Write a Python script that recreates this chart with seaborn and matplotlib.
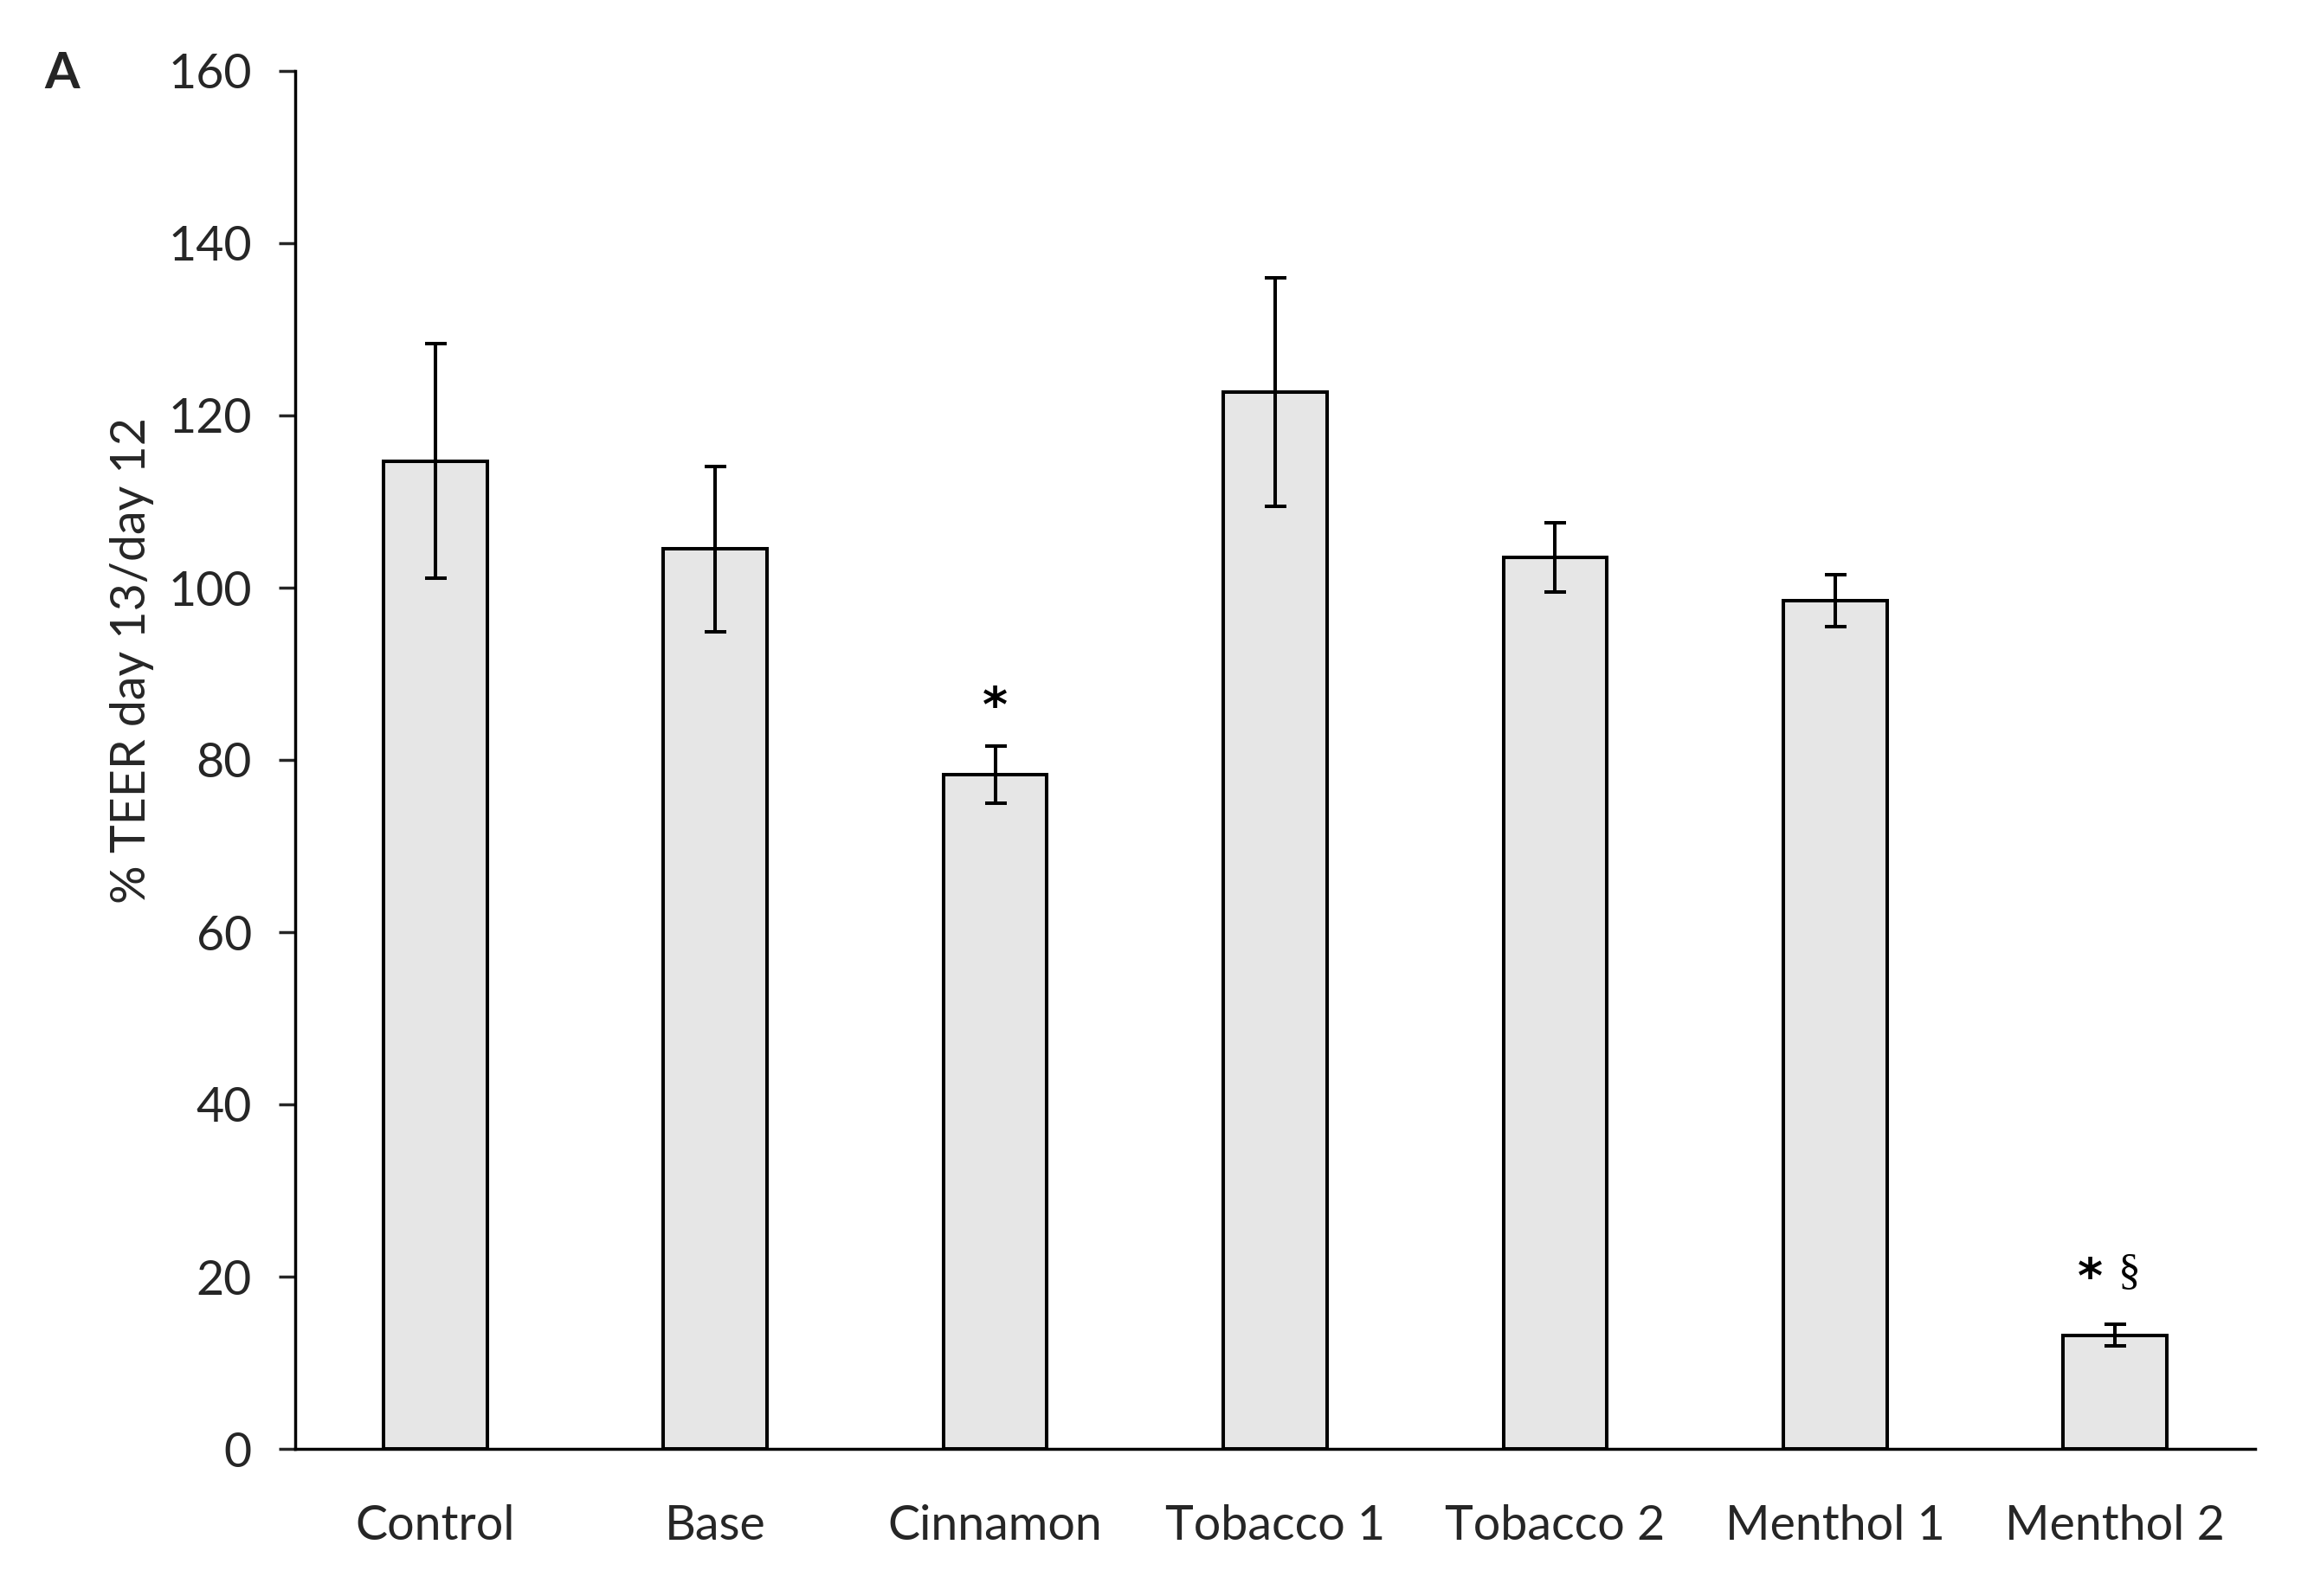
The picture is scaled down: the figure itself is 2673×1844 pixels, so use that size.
import matplotlib
matplotlib.use("Agg")
import matplotlib.pyplot as plt
import seaborn as sns
import pandas as pd
import numpy as np

categories = ["Control", "Base", "Cinnamon", "Tobacco 1", "Tobacco 2", "Menthol 1", "Menthol 2"]
values = [114.7, 104.5, 78.3, 122.7, 103.5, 98.5, 13.2]
errors = [13.6, 9.6, 3.3, 13.3, 4.0, 3.0, 1.25]
# significance marks: (category index, offset, text, y value)
star_marks = [(2, 0.0, "*", 86.0), (6, -0.09, "*", 19.7)]
sect_marks = [(6, 0.05, "\u00a7", 20.4)]
yticks = [0, 20, 40, 60, 80, 100, 120, 140, 160]

sns.set_style("white")
plt.rcParams['font.family'] = ['Lato', 'DejaVu Sans']

df = pd.DataFrame({"cat": categories, "val": values})

fig = plt.figure(figsize=(26.73, 18.44), dpi=100)
ax = fig.add_axes([341/2673, 1 - 1674/1844, (2605-341)/2673, (1674-82)/1844])

sns.barplot(data=df, x="cat", y="val", order=categories, color="#e6e6e6",
            edgecolor="black", linewidth=2.9, width=0.37, saturation=1, ax=ax, zorder=2)
xs = np.arange(len(categories))
ax.errorbar(xs, values, yerr=errors, fmt="none", ecolor="black", elinewidth=2.9,
            capsize=9, capthick=2.9, zorder=3)

for i, off, t, y in star_marks:
    ax.text(xs[i] + off, y, t, ha="center", va="center", fontsize=40,
            fontweight="bold", family=["DejaVu Sans"], color="black")
for i, off, t, y in sect_marks:
    ax.text(xs[i] + off, y, t, ha="center", va="center", fontsize=37,
            family=["Liberation Serif"], color="black")

ax.set_ylim(0, 160)
ax.set_xlim(-0.5, len(categories) - 0.5)
ax.set_yticks(yticks)
ax.set_yticklabels([str(v) for v in yticks], fontsize=40)
ax.tick_params(axis="y", direction="out", length=14, width=2.5, pad=22, left=True)
ax.tick_params(axis="x", length=0, pad=46, labelsize=40)
ax.set_xlabel("")
ax.set_ylabel("% TEER day 13/day 12", fontsize=40)
ax.yaxis.set_label_coords(-0.072, 0.572)
for s in ["top", "right"]:
    ax.spines[s].set_visible(False)
for s in ["left", "bottom"]:
    ax.spines[s].set_linewidth(2.5)
    ax.spines[s].set_color("black")

fig.text(72/2673, 1 - 86/1844, "A", fontsize=42, fontweight="bold", ha="center", va="center")

fig.savefig("out.png", dpi=100)
